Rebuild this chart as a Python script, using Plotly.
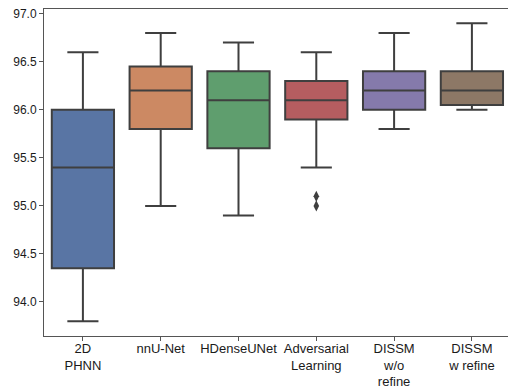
import plotly.graph_objects as go

categories = ["2D<br>PHNN", "nnU-Net", "HDenseUNet", "Adversarial<br>Learning",
              "DISSM<br>w/o<br>refine", "DISSM<br>w refine"]
lower_whisker = [93.8, 95.0, 94.9, 95.4, 95.8, 96.0]
q1_values = [94.35, 95.8, 95.6, 95.9, 96.0, 96.05]
median_values = [95.4, 96.2, 96.1, 96.1, 96.2, 96.2]
q3_values = [96.0, 96.45, 96.4, 96.3, 96.4, 96.4]
upper_whisker = [96.6, 96.8, 96.7, 96.6, 96.8, 96.9]
outlier_category = ["Adversarial<br>Learning", "Adversarial<br>Learning"]
outlier_values = [95.1, 95.0]
colors = ["#5975A4", "#CC8963", "#5F9E6E", "#B55D60", "#857AAB", "#8D7866"]
ytick_vals = [94.0, 94.5, 95.0, 95.5, 96.0, 96.5, 97.0]

line_color = "#3F3F3F"
fig = go.Figure()
for i, cat in enumerate(categories):
    fig.add_trace(go.Box(
        x=[cat], q1=[q1_values[i]], median=[median_values[i]], q3=[q3_values[i]],
        lowerfence=[lower_whisker[i]], upperfence=[upper_whisker[i]],
        fillcolor=colors[i], line=dict(color=line_color, width=2),
        width=0.8, whiskerwidth=0.5, boxpoints=False, showlegend=False,
        hoverinfo="skip",
    ))
fig.add_trace(go.Scatter(
    x=outlier_category, y=outlier_values, mode="markers",
    marker=dict(symbol="diamond-tall", size=8, color=line_color),
    showlegend=False,
))

fig.update_layout(
    width=508, height=387,
    margin=dict(l=44, r=0, t=9, b=51),
    paper_bgcolor="white", plot_bgcolor="white",
    boxmode="overlay",
    font=dict(family="Liberation Sans, Arial, sans-serif", color="#1a1a1a"),
)
fig.update_xaxes(
    type="category", categoryorder="array", categoryarray=categories,
    range=[-0.5, 5.464], automargin=False,
    showline=True, linecolor="#555555", linewidth=1, mirror=True,
    ticks="outside", ticklen=4, tickcolor="#555555",
    showgrid=False, zeroline=False, tickfont=dict(size=13),
    tickangle=0, ticklabelstandoff=-4,
)
fig.update_yaxes(
    range=[93.646, 97.049], automargin=False,
    tickvals=ytick_vals, ticktext=[f"{v:.1f}" for v in ytick_vals],
    showline=True, linecolor="#555555", linewidth=1, mirror=False,
    ticks="outside", ticklen=4, tickcolor="#555555",
    showgrid=False, zeroline=False, tickfont=dict(size=12),
)
fig.write_html("out.html", config={"displayModeBar": False},
               post_script="document.body.style.margin='0';document.body.style.overflow='hidden';")
